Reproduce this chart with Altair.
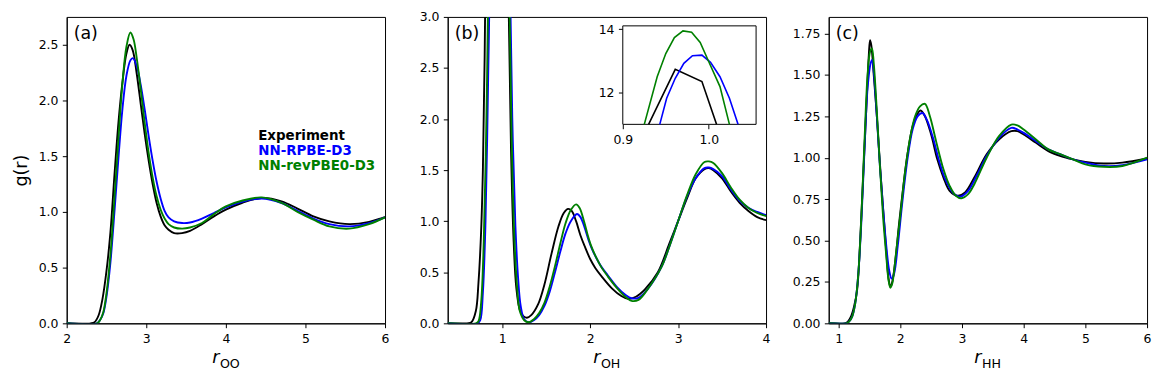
import altair as alt
import pandas as pd

SERIES = ["Experiment", "NN-RPBE-D3", "NN-revPBE0-D3"]
COLORS = ["#000000", "#0000ff", "#008000"]
PANEL_LABELS = ["(a)", "(b)", "(c)"]
X_SUBS = ["OO", "OH", "HH"]

# ---------------- (a) g_OO ----------------
A_EXP_R = [2.0, 2.3, 2.35, 2.4, 2.45, 2.5, 2.55, 2.6, 2.65, 2.7, 2.75, 2.79, 2.83, 2.88, 2.93, 2.98, 3.03,
           3.08, 3.13, 3.18, 3.23, 3.28, 3.35, 3.45, 3.55, 3.7, 3.85, 4.0, 4.2, 4.45, 4.7, 4.9, 5.1, 5.3, 5.55,
           5.8, 6.0]
A_EXP_G = [0.0, 0.0, 0.01, 0.07, 0.22, 0.47, 0.82, 1.33, 1.8, 2.16, 2.42, 2.50, 2.45, 2.24, 1.97, 1.70, 1.46,
           1.25, 1.08, 0.96, 0.88, 0.84, 0.81, 0.81, 0.83, 0.89, 0.96, 1.02, 1.08, 1.125, 1.095, 1.03, 0.96, 0.915,
           0.89, 0.91, 0.955]
A_RPBE_R = [2.0, 2.38, 2.42, 2.46, 2.5, 2.55, 2.6, 2.65, 2.7, 2.75, 2.8, 2.83, 2.88, 2.93, 2.98, 3.03, 3.08,
            3.13, 3.18, 3.23, 3.28, 3.35, 3.45, 3.55, 3.7, 3.85, 4.0, 4.2, 4.45, 4.7, 4.9, 5.1, 5.3, 5.55, 5.8, 6.0]
A_RPBE_G = [0.0, 0.0, 0.03, 0.09, 0.24, 0.55, 1.0, 1.48, 1.92, 2.22, 2.36, 2.38, 2.31, 2.14, 1.92, 1.68, 1.46,
            1.27, 1.12, 1.01, 0.95, 0.915, 0.90, 0.905, 0.94, 0.99, 1.04, 1.09, 1.12, 1.08, 1.01, 0.94, 0.89, 0.87,
            0.9, 0.95]
A_REV_R = [2.0, 2.38, 2.42, 2.46, 2.5, 2.55, 2.6, 2.65, 2.7, 2.75, 2.8, 2.84, 2.88, 2.93, 2.98, 3.03, 3.08,
           3.13, 3.18, 3.23, 3.28, 3.35, 3.45, 3.55, 3.7, 3.85, 4.0, 4.2, 4.45, 4.7, 4.9, 5.1, 5.3, 5.55, 5.8, 6.0]
A_REV_G = [0.0, 0.0, 0.03, 0.1, 0.27, 0.62, 1.12, 1.65, 2.15, 2.48, 2.61, 2.55, 2.38, 2.1, 1.8, 1.53, 1.31,
           1.14, 1.02, 0.94, 0.89, 0.86, 0.85, 0.86, 0.9, 0.98, 1.05, 1.1, 1.13, 1.08, 1.0, 0.93, 0.87, 0.85,
           0.89, 0.95]

# ---------------- (b) g_OH ----------------
B_EXP_R = [0.38, 0.6, 0.65, 0.7, 0.73, 0.76, 0.78, 0.8, 0.83, 0.87, 0.899, 0.930, 0.961, 0.992, 1.009, 1.023,
           1.05, 1.075, 1.1, 1.13, 1.16, 1.2, 1.24, 1.28, 1.33, 1.41, 1.48, 1.56, 1.64, 1.7, 1.75, 1.79, 1.84,
           1.89, 1.94, 2.0, 2.06, 2.13, 2.25, 2.35, 2.43, 2.52, 2.62, 2.77, 2.9, 3.0, 3.1, 3.2, 3.3, 3.35, 3.4,
           3.5, 3.6, 3.7, 3.8, 3.9, 4.0]
B_EXP_G = [0.0, 0.0, 0.01, 0.12, 0.4, 0.9, 1.5, 2.6, 5.0, 8.0, 9.3, 11.0, 12.73, 12.35, 11.0, 9.9,
           5.5, 3.0, 1.7, 0.8, 0.35, 0.13, 0.07, 0.055, 0.08, 0.19, 0.38, 0.68, 0.95, 1.08, 1.12, 1.1, 1.0,
           0.86, 0.75, 0.63, 0.54, 0.46, 0.34, 0.27, 0.24, 0.26, 0.33, 0.5, 0.78, 1.0, 1.22, 1.42, 1.51, 1.52,
           1.5, 1.42, 1.29, 1.18, 1.1, 1.04, 1.01]
B_RPBE_R = [0.38, 0.72, 0.75, 0.78, 0.81, 0.84, 0.86, 0.9, 0.943, 0.951, 0.961, 0.971, 0.981, 0.992, 1.002,
            1.013, 1.024, 1.034, 1.06, 1.095, 1.12, 1.15, 1.18, 1.21, 1.25, 1.3, 1.36, 1.42, 1.48, 1.54, 1.6,
            1.66, 1.72, 1.78, 1.85, 1.89, 1.94, 1.98, 2.02, 2.07, 2.13, 2.2, 2.3, 2.4, 2.47, 2.55, 2.65, 2.81,
            2.9, 3.0, 3.1, 3.2, 3.3, 3.35, 3.4, 3.5, 3.6, 3.7, 3.8, 3.9, 4.0]
B_RPBE_G = [0.0, 0.0, 0.03, 0.3, 1.0, 2.4, 3.5, 7.0, 11.0, 11.82, 12.45, 12.92, 13.16, 13.18, 12.95,
            12.5, 11.82, 11.0, 7.0, 3.0, 1.8, 0.95, 0.45, 0.17, 0.04, 0.01, 0.03, 0.08, 0.17, 0.31, 0.5,
            0.7, 0.88, 1.0, 1.07, 1.04, 0.93, 0.82, 0.73, 0.64, 0.55, 0.47, 0.36, 0.28, 0.245, 0.25, 0.33, 0.55,
            0.75, 1.0, 1.24, 1.42, 1.52, 1.525, 1.51, 1.44, 1.31, 1.2, 1.13, 1.09, 1.06]
B_REV_R = [0.38, 0.7, 0.73, 0.76, 0.79, 0.82, 0.84, 0.87, 0.9, 0.925, 0.94, 0.95, 0.96, 0.97, 0.98, 0.99,
           1.0, 1.013, 1.024, 1.04, 1.06, 1.085, 1.11, 1.14, 1.17, 1.2, 1.25, 1.3, 1.36, 1.42, 1.48, 1.54, 1.6,
           1.66, 1.72, 1.78, 1.84, 1.88, 1.93, 1.97, 2.01, 2.06, 2.12, 2.2, 2.3, 2.4, 2.47, 2.55, 2.65, 2.81,
           2.9, 3.0, 3.1, 3.2, 3.3, 3.35, 3.4, 3.5, 3.6, 3.7, 3.8, 3.9, 4.0]
B_REV_G = [0.0, 0.0, 0.02, 0.2, 0.8, 2.0, 3.2, 6.0, 8.8, 11.0, 12.5, 13.23, 13.73, 13.94, 13.9, 13.58,
           12.97, 12.19, 11.0, 8.5, 6.0, 3.0, 1.7, 0.8, 0.35, 0.12, 0.03, 0.01, 0.04, 0.1, 0.2, 0.36, 0.56,
           0.78, 0.98, 1.11, 1.165, 1.13, 1.0, 0.87, 0.76, 0.66, 0.56, 0.46, 0.35, 0.26, 0.22, 0.23, 0.33, 0.55,
           0.75, 1.0, 1.25, 1.46, 1.58, 1.585, 1.57, 1.47, 1.33, 1.21, 1.13, 1.08, 1.05]

# ---------------- (c) g_HH ----------------
C_EXP_R = [0.84, 1.1, 1.15, 1.2, 1.25, 1.3, 1.35, 1.4, 1.45, 1.49, 1.51, 1.53, 1.57, 1.62, 1.66, 1.72, 1.77,
           1.81, 1.84, 1.87, 1.92, 1.98, 2.05, 2.12, 2.2, 2.27, 2.33, 2.4, 2.5, 2.6, 2.7, 2.8, 2.93, 3.05, 3.2,
           3.4, 3.6, 3.8, 3.9, 4.0, 4.2, 4.4, 4.6, 4.8, 5.0, 5.3, 5.6, 6.0]
C_EXP_G = [0.0, 0.0, 0.01, 0.04, 0.1, 0.2, 0.5, 0.9, 1.3, 1.62, 1.71, 1.68, 1.5, 1.25, 1.02, 0.7, 0.45,
           0.27, 0.22, 0.25, 0.38, 0.6, 0.83, 1.03, 1.19, 1.26, 1.285, 1.25, 1.14, 0.99, 0.88, 0.8, 0.77, 0.79,
           0.88, 1.02, 1.11, 1.16, 1.16, 1.14, 1.09, 1.04, 1.01, 0.99, 0.975, 0.965, 0.97, 0.995]
C_RPBE_R = [0.84, 1.12, 1.17, 1.22, 1.27, 1.32, 1.37, 1.42, 1.47, 1.52, 1.545, 1.57, 1.62, 1.67, 1.72, 1.77,
            1.82, 1.86, 1.9, 1.96, 2.03, 2.12, 2.2, 2.28, 2.36, 2.43, 2.53, 2.63, 2.73, 2.85, 2.97, 3.1, 3.25,
            3.4, 3.6, 3.8, 3.9, 4.0, 4.2, 4.4, 4.6, 4.8, 5.0, 5.3, 5.6, 6.0]
C_RPBE_G = [0.0, 0.0, 0.01, 0.04, 0.12, 0.3, 0.62, 1.05, 1.42, 1.57, 1.59, 1.52, 1.25, 0.95, 0.7, 0.48,
            0.32, 0.27, 0.3, 0.47, 0.72, 1.0, 1.17, 1.25, 1.27, 1.23, 1.12, 0.98, 0.87, 0.79, 0.765, 0.8, 0.9,
            1.01, 1.12, 1.18, 1.17, 1.15, 1.1, 1.05, 1.02, 0.99, 0.97, 0.95, 0.955, 0.99]
C_REV_R = [0.84, 1.12, 1.17, 1.22, 1.27, 1.32, 1.37, 1.42, 1.47, 1.51, 1.54, 1.57, 1.62, 1.67, 1.72, 1.77,
           1.81, 1.84, 1.87, 1.93, 2.0, 2.08, 2.16, 2.24, 2.32, 2.4, 2.48, 2.58, 2.7, 2.8, 2.9, 2.99, 3.1, 3.2,
           3.4, 3.6, 3.8, 3.9, 4.0, 4.2, 4.4, 4.6, 4.8, 5.0, 5.3, 5.6, 6.0]
C_REV_G = [0.0, 0.0, 0.01, 0.04, 0.12, 0.3, 0.65, 1.1, 1.5, 1.64, 1.66, 1.57, 1.28, 0.95, 0.65, 0.42,
           0.26, 0.215, 0.24, 0.42, 0.65, 0.92, 1.12, 1.25, 1.31, 1.325, 1.25, 1.1, 0.93, 0.83, 0.77, 0.755,
           0.78, 0.84, 1.0, 1.13, 1.2, 1.195, 1.17, 1.11, 1.05, 1.02, 0.99, 0.96, 0.945, 0.95, 1.0]

# axis setups
A_XDOM, A_YDOM = [2, 6], [0, 2.75]
B_XDOM, B_YDOM = [0.38, 4], [0, 3.0]
C_XDOM, C_YDOM = [0.84, 6], [0, 1.85]
A_XTICKS, A_YTICKS = [2, 3, 4, 5, 6], [0, 0.5, 1.0, 1.5, 2.0, 2.5]
B_XTICKS, B_YTICKS = [1, 2, 3, 4], [0, 0.5, 1.0, 1.5, 2.0, 2.5, 3.0]
C_XTICKS, C_YTICKS = [1, 2, 3, 4, 5, 6], [0, 0.25, 0.5, 0.75, 1.0, 1.25, 1.5, 1.75]
INSET_XDOM, INSET_YDOM = [0.9, 1.055], [11, 14.1]
INSET_XTICKS, INSET_YTICKS = [0.9, 1.0], [12, 14]

W, H = 320, 308
FONT = "DejaVu Sans"
TICK = 12.5
INSET_BOX = (176, 310, 9, 108)  # left, right, top, bottom in plot pixels
INTERP = "catmull-rom"


def line_layers(curves, xdom, ydom, xticks, yticks, yfmt, ytitle):
    layers = []
    for name, color in zip(SERIES, COLORS):
        r, g = curves[name]
        df = pd.DataFrame({"r": r, "g": g})
        layers.append(
            alt.Chart(df).mark_line(color=color, strokeWidth=1.9, clip=True, interpolate=INTERP).encode(
                x=alt.X("r:Q", scale=alt.Scale(domain=xdom, nice=False, zero=False),
                        axis=alt.Axis(values=xticks, format="d", title=None)),
                y=alt.Y("g:Q", scale=alt.Scale(domain=ydom, nice=False, zero=False),
                        axis=alt.Axis(values=yticks, format=yfmt, title=ytitle)),
            )
        )
    return layers


def text_layers(idx):
    out = []
    out.append(alt.Chart(pd.DataFrame({"t": [PANEL_LABELS[idx]]})).mark_text(
        align="left", baseline="alphabetic", fontSize=17.5, font=FONT, color="black").encode(
        x=alt.value(7), y=alt.value(22.5), text="t:N"))
    out.append(alt.Chart(pd.DataFrame({"t": ["r"]})).mark_text(
        align="right", baseline="alphabetic", fontSize=17.5, font=FONT, fontStyle="italic", color="black").encode(
        x=alt.value(153.5), y=alt.value(H + 40.3), text="t:N"))
    out.append(alt.Chart(pd.DataFrame({"t": [X_SUBS[idx]]})).mark_text(
        align="left", baseline="alphabetic", fontSize=12.7, font=FONT, color="black").encode(
        x=alt.value(154), y=alt.value(H + 44.7), text="t:N"))
    return out


# panel (a)
a_layers = line_layers({SERIES[0]: (A_EXP_R, A_EXP_G), SERIES[1]: (A_RPBE_R, A_RPBE_G),
                        SERIES[2]: (A_REV_R, A_REV_G)}, A_XDOM, A_YDOM, A_XTICKS, A_YTICKS, ".1f", "g(r)")
legend_layers = []
for i, (name, color) in enumerate(zip(SERIES, COLORS)):
    legend_layers.append(alt.Chart(pd.DataFrame({"t": [name]})).mark_text(
        align="left", baseline="alphabetic", fontSize=13.5, fontWeight="bold", font=FONT, color=color).encode(
        x=alt.value(192.5), y=alt.value(124 + 15 * i), text="t:N"))
panel_a = alt.layer(*a_layers, *legend_layers, *text_layers(0)).properties(width=W, height=H)

# panel (b) with inset
b_curves = {SERIES[0]: (B_EXP_R, B_EXP_G), SERIES[1]: (B_RPBE_R, B_RPBE_G), SERIES[2]: (B_REV_R, B_REV_G)}
b_main = alt.layer(*line_layers(b_curves, B_XDOM, B_YDOM, B_XTICKS, B_YTICKS, ".1f", None), *text_layers(1))

L, R, T, B = INSET_BOX
frame = alt.Chart(pd.DataFrame({"t": ["box"]})).mark_rect(fill="white", stroke="black", strokeWidth=1).encode(
    x=alt.value(L), x2=alt.value(R), y=alt.value(T), y2=alt.value(B))
inset_lines = []
for name, color in zip(SERIES, COLORS):
    r, g = b_curves[name]
    df = pd.DataFrame({"r": r, "g": g})
    inset_lines.append(
        alt.Chart(df).transform_filter(
            f"datum.g >= {INSET_YDOM[0]} && datum.r >= {INSET_XDOM[0]} && datum.r <= {INSET_XDOM[1]}"
        ).mark_line(color=color, strokeWidth=1.6).encode(
            x=alt.X("r:Q", scale=alt.Scale(domain=INSET_XDOM, range=[L, R], nice=False, zero=False),
                    axis=alt.Axis(orient="bottom", offset=B - H, values=INSET_XTICKS, format=".1f",
                                  title=None, domain=False)),
            y=alt.Y("g:Q", scale=alt.Scale(domain=INSET_YDOM, range=[B, T], nice=False, zero=False),
                    axis=alt.Axis(orient="left", offset=-L, values=INSET_YTICKS, format="d",
                                  title=None, domain=False)),
        )
    )
b_inset = alt.layer(frame, *inset_lines)
panel_b = alt.layer(b_main, b_inset).resolve_scale(x="independent", y="independent").properties(width=W, height=H)

# panel (c)
c_layers = line_layers({SERIES[0]: (C_EXP_R, C_EXP_G), SERIES[1]: (C_RPBE_R, C_RPBE_G),
                        SERIES[2]: (C_REV_R, C_REV_G)}, C_XDOM, C_YDOM, C_XTICKS, C_YTICKS, ".2f", None)
panel_c = alt.layer(*c_layers, *text_layers(2)).properties(width=W, height=H)

chart = alt.hconcat(panel_a, panel_b, panel_c, spacing=63, bounds="flush").properties(
    padding={"left": 3, "top": 1, "right": 5, "bottom": 5}
).configure(font=FONT).configure_view(stroke="black", strokeWidth=1).configure_axis(
    labelFont=FONT, labelFontSize=TICK, labelColor="black", labelFlush=False, labelOverlap=False,
    tickColor="black", tickSize=4.4, tickWidth=1, labelPadding=4.4, domainColor="black", domainWidth=1,
    grid=False, titleFont=FONT, titleFontSize=17.5, titleFontWeight="normal", titleColor="black", titlePadding=8,
)

chart.save("out.html", embed_options={"renderer": "svg", "actions": False})
